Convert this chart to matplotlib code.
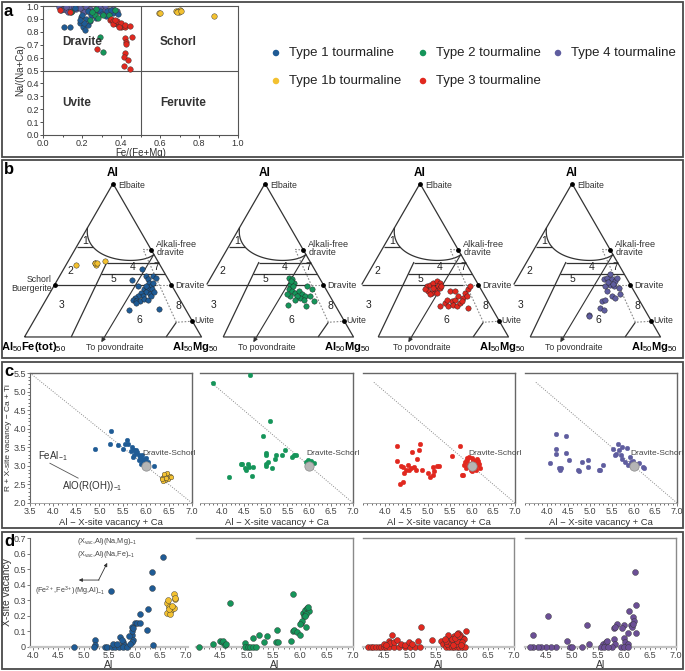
import numpy as np
import matplotlib
matplotlib.use('Agg')
import matplotlib.pyplot as plt
from matplotlib.patches import Rectangle

plt.rcParams['font.family'] = ['Liberation Sans', 'DejaVu Sans']
plt.rcParams['mathtext.fontset'] = 'custom'
plt.rcParams['mathtext.rm'] = 'Liberation Sans'
plt.rcParams['mathtext.it'] = 'Liberation Sans:italic'
plt.rcParams['mathtext.bf'] = 'Liberation Sans:bold'

# colours of the tourmaline types
col_t1 = '#1f5b95'
col_t1b = '#f3c130'
col_t2 = '#15955a'
col_t3 = '#e1281f'
col_t4 = '#5f5d9f'
col_t4d = '#6b4f95'

legend_names = ['Type 1 tourmaline', 'Type 2 tourmaline', 'Type 4 tourmaline',
                'Type 1b tourmaline', 'Type 3 tourmaline']

# ---- panel a : Fe/(Fe+Mg) vs Na/(Na+Ca)
a_t4_x = [0.08, 0.1, 0.12, 0.14, 0.15, 0.17, 0.18, 0.2, 0.22, 0.24, 0.26, 0.28, 0.3, 0.32,
          0.34, 0.36, 0.38, 0.12, 0.16, 0.19, 0.23, 0.27, 0.31, 0.35, 0.25, 0.21, 0.09, 0.13, 0.29]
a_t4_y = [0.99, 0.98, 0.97, 0.99, 0.96, 0.98, 0.99, 0.97, 0.99, 0.98, 0.97, 0.99, 0.98, 0.99,
          0.97, 0.98, 0.96, 0.995, 0.99, 0.985, 0.96, 0.95, 0.965, 0.955, 0.93, 0.95, 0.97, 0.955, 0.985]
a_t1_x = [0.188, 0.205, 0.214, 0.231, 0.197, 0.248, 0.29, 0.325, 0.359, 0.385, 0.11, 0.137,
          0.162, 0.24, 0.22, 0.21, 0.26, 0.3, 0.33, 0.35, 0.27, 0.2, 0.19, 0.23]
a_t1_y = [0.866, 0.84, 0.814, 0.853, 0.917, 0.93, 0.964, 0.922, 0.948, 0.938, 0.835, 0.835,
          0.982, 0.886, 0.9, 0.87, 0.95, 0.94, 0.96, 0.97, 0.91, 0.93, 0.89, 0.96]
a_t2_x = [0.27, 0.29, 0.308, 0.24, 0.265, 0.145, 0.308, 0.34, 0.368, 0.28, 0.25]
a_t2_y = [0.974, 0.762, 0.64, 0.89, 0.93, 0.956, 0.93, 0.93, 0.969, 0.91, 0.95]
a_t3_x = [0.085, 0.137, 0.279, 0.342, 0.35, 0.36, 0.37, 0.38, 0.39, 0.4, 0.41, 0.42, 0.36, 0.38,
          0.4, 0.42, 0.37, 0.39, 0.444, 0.419, 0.427, 0.424, 0.419, 0.414, 0.436, 0.415, 0.444, 0.458]
a_t3_y = [0.969, 0.956, 0.664, 0.891, 0.9, 0.88, 0.87, 0.86, 0.85, 0.84, 0.845, 0.84, 0.86, 0.88,
          0.87, 0.855, 0.895, 0.835, 0.845, 0.749, 0.723, 0.703, 0.638, 0.602, 0.581, 0.535, 0.509, 0.762]
a_t1b_x = [0.595, 0.602, 0.68, 0.69, 0.70, 0.695, 0.685, 0.71, 0.877]
a_t1b_y = [0.943, 0.948, 0.96, 0.965, 0.97, 0.955, 0.952, 0.962, 0.922]

# ---- panel b : ternary plot coordinates (x along base, y height; base 0..1)
b_t1b_x = [0.292, 0.396, 0.406, 0.40, 0.41, 0.453]
b_t1b_y = [0.404, 0.419, 0.409, 0.42, 0.415, 0.428]
b_t1_x = [0.666, 0.609, 0.642, 0.689, 0.698, 0.726, 0.742, 0.704, 0.717, 0.674, 0.698, 0.723,
          0.689, 0.708, 0.660, 0.670, 0.642, 0.623, 0.613, 0.628, 0.651, 0.632, 0.674, 0.698,
          0.717, 0.732, 0.589, 0.758, 0.726, 0.685]
b_t1_y = [0.385, 0.321, 0.287, 0.343, 0.328, 0.343, 0.334, 0.302, 0.287, 0.272, 0.268, 0.268,
          0.253, 0.240, 0.249, 0.230, 0.230, 0.221, 0.211, 0.202, 0.202, 0.192, 0.215, 0.211,
          0.230, 0.253, 0.155, 0.158, 0.306, 0.287]
b_t2_x = [0.638, 0.653, 0.662, 0.643, 0.634, 0.653, 0.672, 0.691, 0.709, 0.728, 0.700, 0.681,
          0.643, 0.625, 0.628, 0.734, 0.775, 0.766, 0.738, 0.657, 0.645, 0.719, 0.757, 0.672]
b_t2_y = [0.334, 0.325, 0.306, 0.291, 0.268, 0.258, 0.249, 0.258, 0.240, 0.230, 0.221, 0.230,
          0.234, 0.240, 0.183, 0.177, 0.202, 0.268, 0.287, 0.287, 0.315, 0.211, 0.230, 0.211]
b_t3_x = [0.538, 0.557, 0.575, 0.594, 0.613, 0.547, 0.566, 0.585, 0.604, 0.557, 0.594, 0.613,
          0.528, 0.575, 0.613, 0.642, 0.660, 0.679, 0.698, 0.717, 0.689, 0.708, 0.726, 0.745,
          0.755, 0.774, 0.764, 0.783, 0.670, 0.698, 0.774, 0.651, 0.735, 0.62]
b_t3_y = [0.287, 0.296, 0.306, 0.315, 0.306, 0.258, 0.249, 0.268, 0.287, 0.240, 0.249, 0.277,
          0.268, 0.277, 0.174, 0.192, 0.174, 0.202, 0.211, 0.230, 0.183, 0.174, 0.192, 0.221,
          0.249, 0.268, 0.230, 0.287, 0.258, 0.258, 0.164, 0.211, 0.205, 0.29]
b_t4_x = [0.679, 0.698, 0.726, 0.745, 0.717, 0.687, 0.736, 0.764, 0.698, 0.726, 0.745, 0.774,
          0.670, 0.689, 0.660, 0.679, 0.596, 0.596, 0.717, 0.755, 0.705, 0.73]
b_t4_y = [0.325, 0.334, 0.325, 0.315, 0.296, 0.287, 0.287, 0.277, 0.258, 0.230, 0.221, 0.240,
          0.202, 0.211, 0.164, 0.155, 0.126, 0.117, 0.353, 0.334, 0.31, 0.30]

# ---- panel c : Al - X-vac + Ca vs R + X-vac - Ca + Ti
c_t1_x = [4.9, 5.25, 5.22, 5.4, 5.5, 5.55, 5.62, 5.6, 5.7, 5.75, 5.8, 5.72, 5.85, 5.9, 5.95, 5.85,
          6.0, 5.9, 6.05, 5.95, 6.18, 5.78, 5.88, 6.0, 6.02, 5.82, 5.92, 5.98, 6.05, 5.75, 5.68]
c_t1_y = [3.45, 3.95, 3.6, 3.55, 3.45, 3.6, 3.6, 3.7, 3.5, 3.42, 3.35, 3.25, 3.3, 3.2, 3.15, 3.15,
          3.1, 3.05, 3.05, 3.12, 3.0, 3.42, 3.25, 3.22, 3.0, 3.38, 3.3, 3.18, 3.1, 3.3, 3.4]
c_t1b_x = [6.35, 6.4, 6.45, 6.5, 6.42, 6.38, 6.48, 6.52, 6.45, 6.4, 6.55, 6.35, 6.43]
c_t1b_y = [2.68, 2.72, 2.75, 2.7, 2.62, 2.6, 2.65, 2.72, 2.8, 2.78, 2.7, 2.65, 2.68]
c_t2_x = [3.8, 4.65, 5.09, 4.95, 5.02, 5.0, 5.05, 5.02, 5.0, 5.15, 5.22, 5.25, 5.38, 5.45, 5.6,
          5.65, 5.7, 5.93, 5.97, 6.0, 6.05, 6.1, 5.95, 4.44, 4.6, 4.54, 4.61, 4.72, 4.7, 4.45,
          4.17, 4.56]
c_t2_y = [5.24, 5.45, 4.21, 3.81, 3.34, 3.05, 3.1, 3.0, 3.28, 2.94, 3.18, 3.3, 3.29, 3.42, 3.25,
          3.3, 3.28, 3.1, 3.15, 3.05, 3.12, 3.08, 3.02, 3.05, 3.05, 2.93, 2.96, 2.96, 2.72, 3.05,
          2.71, 2.89]
c_t3_x = [4.29, 4.29, 4.38, 4.35, 4.42, 4.62, 4.78, 4.82, 4.74, 4.53, 4.6, 4.67, 4.56, 4.49, 4.44,
          4.42, 4.73, 4.86, 5.0, 5.05, 5.11, 5.14, 5.21, 5.25, 5.12, 5.54, 5.74, 5.78, 5.81,
          5.85, 5.9, 5.95, 6.0, 6.05, 6.1, 6.15, 6.2, 5.88, 5.92, 5.98, 6.02, 6.08, 6.12, 6.18,
          5.95, 6.0, 6.05, 5.82, 5.9, 6.1, 6.15, 5.97, 6.03]
c_t3_y = [3.53, 3.14, 3.0, 2.51, 2.56, 3.38, 3.44, 3.59, 3.19, 3.02, 2.93, 2.97, 2.88, 2.88, 2.81,
          2.97, 2.88, 2.88, 2.8, 2.69, 2.75, 2.85, 3.0, 3.0, 2.96, 3.26, 3.53, 2.76, 2.76,
          3.1, 3.15, 3.05, 3.2, 3.1, 3.0, 3.05, 2.95, 2.95, 3.0, 2.9, 3.08, 3.12, 3.18, 3.05,
          3.25, 2.85, 2.92, 3.02, 3.2, 2.9, 3.12, 2.98, 3.15]
c_t4_x = [4.07, 4.22, 4.45, 4.22, 4.22, 4.45, 4.52, 4.28, 4.3, 4.34, 4.71, 4.74, 4.82, 4.96, 4.96,
          5.2, 5.22, 5.3, 5.53, 5.57, 5.63, 5.67, 5.74, 5.85, 5.92, 5.74, 5.81, 5.88, 5.99, 6.06,
          6.13, 6.21, 6.24, 5.71, 5.6, 6.02, 5.95]
c_t4_y = [3.08, 3.87, 3.8, 3.45, 3.33, 3.35, 3.17, 2.95, 2.9, 2.93, 2.9, 2.86, 3.1, 3.15, 2.97,
          2.9, 2.88, 3.02, 3.45, 3.3, 3.6, 3.42, 3.5, 3.47, 3.24, 3.19, 3.1, 3.02, 3.14, 3.04,
          3.08, 2.98, 2.94, 3.28, 3.31, 2.98, 3.1]
c_ref = (6.0, 3.0)

# ---- panel d : Al vs X-site vacancy
d_t1_x = [5.54, 6.35, 6.55, 6.34, 6.27, 6.1, 6.0, 6.05, 6.1, 6.24, 5.95, 5.95, 5.95, 5.97, 5.96,
          5.95, 5.72, 5.77, 5.8, 5.22, 5.22, 5.2, 4.81, 5.42, 5.45, 5.55, 5.62, 5.7, 5.78, 5.85,
          5.57, 5.65, 6.37, 5.9, 5.88, 5.75]
d_t1_y = [0.36, 0.48, 0.58, 0.38, 0.245, 0.21, 0.157, 0.157, 0.157, 0.11, 0.076, 0.10, 0.13, 0.12,
          0.044, 0.03, 0.065, 0.03, 0.01, 0.044, 0.01, 0.0, 0.0, 0.0, 0.0, 0.0, 0.0, 0.0, 0.0, 0.0,
          0.02, 0.02, 0.01, 0.02, 0.07, 0.045]
d_t1b_x = [6.7, 6.77, 6.8, 6.64, 6.67, 6.72, 6.63, 6.77, 6.65, 6.7, 6.79, 6.68, 6.74]
d_t1b_y = [0.23, 0.34, 0.31, 0.28, 0.26, 0.24, 0.22, 0.25, 0.3, 0.215, 0.315, 0.245, 0.265]
d_t2_x = [5.88, 4.69, 6.06, 6.1, 6.14, 6.18, 6.08, 6.12, 6.16, 6.1, 6.02, 6.04, 6.0, 6.11, 5.88,
          5.9, 5.94, 6.0, 5.83, 5.58, 5.55, 5.6, 5.38, 5.32, 5.23, 5.12, 4.97, 4.98, 5.02, 5.07,
          5.12, 5.17, 4.1, 4.37, 4.5, 4.53, 4.55, 4.6, 4.62]
d_t2_y = [0.34, 0.28, 0.22, 0.24, 0.25, 0.23, 0.2, 0.21, 0.26, 0.2, 0.157, 0.165, 0.15, 0.13, 0.1,
          0.11, 0.095, 0.08, 0.04, 0.11, 0.035, 0.03, 0.07, 0.03, 0.08, 0.055, 0.025, 0.0, 0.0, 0.0,
          0.0, 0.0, 0.0, 0.02, 0.04, 0.035, 0.04, 0.01, 0.02]
d_t3_x = [5.22, 4.66, 4.2, 4.25, 4.3, 4.35, 4.4, 4.45, 4.5, 4.55, 4.6, 4.7, 4.8, 4.9, 5.0, 5.1,
          5.2, 4.6, 4.62, 4.7, 4.75, 4.83, 4.9, 4.98, 5.05, 5.15, 4.5, 4.55, 5.43, 5.59, 5.63,
          5.7, 5.75, 5.8, 5.85, 5.9, 5.95, 6.0, 6.05, 6.07, 5.93, 5.72, 5.78, 5.82, 5.88, 5.92,
          5.98, 6.02, 5.76, 5.84, 5.9, 5.96, 6.04, 5.7, 5.8, 5.86, 5.94, 6.0, 5.74, 5.68, 5.82,
          5.9, 5.98]
d_t3_y = [0.13, 0.076, 0, 0, 0, 0, 0, 0, 0, 0, 0, 0, 0, 0, 0, 0, 0, 0.04, 0.025, 0.035, 0.045,
          0.02, 0.015, 0.03, 0.02, 0.04, 0.02, 0.01, 0.048, 0.04, 0.02,
          0.0, 0.0, 0.0, 0.0, 0.0, 0.0, 0.0, 0.0, 0.1, 0.09, 0.02, 0.03, 0.04, 0.02, 0.05,
          0.03, 0.06, 0.06, 0.07, 0.04, 0.08, 0.05, 0.04, 0.05, 0.06, 0.07, 0.03, 0.075, 0.05,
          0.01, 0.085, 0.015]
d_t4_x = [6.22, 6.23, 6.1, 6.18, 6.2, 6.13, 6.15, 6.17, 6.0, 5.96, 6.24, 6.07, 6.0, 6.03, 6.07,
          5.95, 6.0, 6.08, 5.8, 5.86, 5.83, 5.8, 5.82, 5.78, 5.6, 5.65, 5.55, 5.62, 5.29, 5.33,
          5.2, 4.97, 5.0, 4.9, 4.7, 4.6, 4.5, 4.4, 4.35, 4.25, 4.2, 4.54, 4.26, 5.7, 5.68]
d_t4_y = [0.48, 0.27, 0.23, 0.19, 0.17, 0.14, 0.13, 0.15, 0.14, 0.12, 0.09, 0.09, 0.06, 0.03,
          0.02, 0.0, 0.0, 0.0, 0.12, 0.15, 0.13, 0.05, 0.02, 0.0, 0.02, 0.03, 0.0, 0.0, 0.14,
          0.02, 0.0, 0.0, 0.0, 0.04, 0.0, 0.0, 0.0, 0.0, 0.0, 0.0, 0.0, 0.2, 0.08, 0.0, 0.04]

W, H = 685, 671
fig = plt.figure(figsize=(W / 100, H / 100), dpi=100)


def px_axes(l, t, r, b):
    return fig.add_axes([l / W, 1 - b / H, (r - l) / W, (b - t) / H])


def figtext(x, y, s, **kw):
    fig.text(x / W, 1 - y / H, s, **kw)


# outer boxes and panel letters
for (t, b, lab) in [(2, 157, 'a'), (160, 358, 'b'), (362, 528, 'c'), (532, 669, 'd')]:
    fig.patches.append(Rectangle((2 / W, 1 - b / H), 681 / W, (b - t) / H,
                                 transform=fig.transFigure, fill=False,
                                 edgecolor='#4a4a4a', lw=1.3))
    figtext(4, t + 10, lab, fontsize=12, fontweight='bold', va='center', ha='left')

# ================= panel a
ax = px_axes(43, 6, 238, 135)
kw = dict(s=16, edgecolors='#333333', linewidths=0.3, zorder=3)
ax.scatter(a_t4_x, a_t4_y, color=col_t4, **kw)
ax.scatter(a_t1_x, a_t1_y, color=col_t1, **kw)
ax.scatter(a_t2_x, a_t2_y, color=col_t2, **kw)
ax.scatter(a_t3_x, a_t3_y, color=col_t3, **kw)
ax.scatter(a_t1b_x, a_t1b_y, color=col_t1b, **kw)
ax.axvline(0.5, color='#555555', lw=0.8)
ax.axhline(0.5, color='#555555', lw=0.8)
ax.set_xlim(0, 1)
ax.set_ylim(0, 1)
ax.set_xticks(np.arange(0, 1.01, 0.2))
ax.set_xticks(np.arange(0, 1.01, 0.1), minor=True)
ax.set_yticks(np.arange(0, 1.01, 0.1))
ax.set_xticklabels(['%.1f' % v for v in np.arange(0, 1.01, 0.2)])
ax.set_yticklabels(['%.1f' % v for v in np.arange(0, 1.01, 0.1)])
ax.tick_params(labelsize=6.5, length=2, width=0.6, pad=1, colors='#333333')
ax.tick_params(which='minor', length=1.5, width=0.5)
for sp in ax.spines.values():
    sp.set_color('#555555')
    sp.set_linewidth(0.8)
ax.set_xlabel('Fe/(Fe+Mg)', fontsize=7, labelpad=0, color='#333333')
ax.set_ylabel('Na/(Na+Ca)', fontsize=7, labelpad=1, color='#333333')
for (x, y, s) in [(0.1, 0.72, 'Dravite'), (0.6, 0.72, 'Schorl'),
                  (0.1, 0.25, 'Uvite'), (0.6, 0.25, 'Feruvite')]:
    ax.text(x, y, s, fontsize=8.5, fontweight='bold', color='#333333', va='center')

# legend (manual, as in the figure)
leg_cols = [col_t1, col_t2, col_t4, col_t1b, col_t3]
leg_pos = [(276, 53), (423, 53), (558, 53), (276, 81), (423, 81)]
lax = px_axes(0, 0, W, H)
lax.set_xlim(0, W)
lax.set_ylim(H, 0)
lax.axis('off')
for name, c, (x, y) in zip(legend_names, leg_cols, leg_pos):
    lax.scatter([x], [y], s=22, color=c, edgecolors='none')
    lax.text(x + 13, y, name, fontsize=9.5, va='center', ha='left', color='#222222')

# ================= panel b : ternary diagrams
S3 = np.sqrt(3) / 2
tri_apex = [113, 265, 420, 572]
tri_data = [[(b_t1b_x, b_t1b_y, col_t1b), (b_t1_x, b_t1_y, col_t1)],
            [(b_t2_x, b_t2_y, col_t2)],
            [(b_t3_x, b_t3_y, col_t3)],
            [(b_t4_x, b_t4_y, col_t4)]]
side = 177.0
lc = '#333333'


def bez(p0, p1, p2, p3, n=80):
    t = np.linspace(0, 1, n)[:, None]
    p = ((1 - t) ** 3 * np.array(p0) + 3 * (1 - t) ** 2 * t * np.array(p1)
         + 3 * (1 - t) * t ** 2 * np.array(p2) + t ** 3 * np.array(p3))
    return p[:, 0], p[:, 1]


for k, apx in enumerate(tri_apex):
    first = k == 0
    l, r, t, b = apx - 110, apx + 130, 166, 356
    tax = px_axes(l, t, r, b)
    tax.set_xlim(-(apx - 88.5 - l) / side, 1 + (r - apx - 88.5) / side)
    tax.set_ylim(-(b - 337) / side, S3 + (183.5 - t) / side)
    tax.axis('off')
    tax.patch.set_alpha(0)
    L = dict(color=lc, lw=0.9, solid_capstyle='butt')
    D = dict(color='#888888', lw=0.8, ls=(0, (1.5, 1.5)))
    yS = 0.296
    if first:
        tax.plot([0, 0.5, 1, 0], [0, S3, 0, 0], **L)
    else:
        tax.plot([yS / np.sqrt(3), 0.5, 1, 0.264], [yS, S3, 0, 0], **L)
    # curved field boundary and field 1
    cx, cy = bez((0.356, 0.617), (0.33, 0.42), (0.66, 0.40), (0.731, 0.466))
    tax.plot(cx, cy, **L)
    half = cx < 0.5
    x1 = np.interp(0.509, cy[half][::-1], cx[half][::-1])
    tax.plot([0.509 / np.sqrt(3), x1], [0.509, 0.509], **L)
    # internal boundaries
    tax.plot([0.264, 0.466], [0, 0.423], **L)
    for yy in (0.419, 0.357):
        tax.plot([0.264 + 0.4775 * yy, 1 - yy / np.sqrt(3)], [yy, yy], **L)
    tax.plot([yS / np.sqrt(3), 0.745], [yS, yS], **L)
    tax.plot([0.745, 0.829], [yS, yS], **D)
    tax.plot([0.80, 0.858], [0, 0.083], **L)
    tax.plot([0.717, 0.670, 0.858, 0.949], [0.491, 0.494, 0.083, 0.089], **D)
    tax.annotate('', xy=(0.434, -0.03), xytext=(0.731, 0.466),
                 arrowprops=dict(arrowstyle='-|>', color=lc, lw=0.8,
                                 mutation_scale=6, shrinkA=0, shrinkB=0))
    # end members
    ex = [0.5, 0.717, 0.829, 0.949] + ([0.171] if first else [])
    ey = [S3, 0.491, yS, 0.089] + ([yS] if first else [])
    tax.scatter(ex, ey, s=6, color='black', zorder=4, clip_on=False)
    fs = 6.3
    tax.text(0.53, S3 - 0.01, 'Elbaite', fontsize=fs, va='center', color='#333333')
    tax.text(0.745, 0.50, 'Alkali-free\ndravite', fontsize=6.6, va='center',
             linespacing=0.9, color='#333333', clip_on=False)
    tax.text(0.85, yS - 0.005, 'Dravite', fontsize=6.6, va='center', color='#333333')
    tax.text(0.962, 0.094, 'Uvite', fontsize=fs, va='center', color='#333333')
    if first:
        tax.text(0.155, yS + 0.002, 'Schorl\nBuergerite', fontsize=fs, va='center',
                 ha='right', linespacing=0.95, color='#333333')
        tax.text(0.05, -0.058, r'Al$_{50}$Fe(tot)$_{50}$', fontsize=8,
                 fontweight='bold', ha='center', va='center')
    tax.text(0.5, S3 + 0.062, 'Al', fontsize=8.5, fontweight='bold', ha='center', va='center')
    tax.text(0.965, -0.058, r'Al$_{50}$Mg$_{50}$', fontsize=8, fontweight='bold',
             ha='center', va='center', clip_on=False)
    tax.text(0.508, -0.062, 'To povondraite', fontsize=fs, ha='center', va='center',
             color='#333333')
    for (x, y, s) in [(0.34, 0.54, '1'), (0.26, 0.37, '2'), (0.21, 0.18, '3'),
                      (0.613, 0.396, '4'), (0.5, 0.33, '5'), (0.65, 0.098, '6'),
                      (0.745, 0.396, '7'), (0.868, 0.174, '8')]:
        tax.text(x, y, s, fontsize=7.5, ha='center', va='center', color='#222222')
    for (xs, ys, c) in tri_data[k]:
        tax.scatter(xs, ys, s=15, color=c, edgecolors='#222222', linewidths=0.3, zorder=5)

# ================= panel c
c_boxes = [(30, 192, 3.5), (200, 353, 3.75), (363, 515, 3.75), (525, 677, 3.75)]
c_sets = [[(c_t1_x, c_t1_y, col_t1), (c_t1b_x, c_t1b_y, col_t1b)],
          [(c_t2_x, c_t2_y, col_t2)],
          [(c_t3_x, c_t3_y, col_t3)],
          [(c_t4_x, c_t4_y, col_t4)]]
for k, (l, r, x0) in enumerate(c_boxes):
    ax = px_axes(l, 373, r, 503)
    ax.set_xlim(x0, 7.0)
    ax.set_ylim(2.0, 5.5)
    xs_line = np.array([x0, 7.0])
    ax.plot(xs_line, 9 - xs_line, color='#888888', lw=0.7, ls=(0, (1, 1.5)))
    for (xs, ys, c) in c_sets[k]:
        ec = '#333333' if c == col_t1b else c
        ax.scatter(xs, ys, s=11, color=c, edgecolors=ec, linewidths=0.3, zorder=3)
    ax.scatter([c_ref[0]], [c_ref[1]], s=45, color='#b5b5b5', edgecolors='#8a8a8a',
               linewidths=0.5, zorder=4)
    ax.text(c_ref[0] - 0.07, c_ref[1] + 0.33, 'Dravite-Schorl', fontsize=6,
            color='#444444', va='center', ha='left', zorder=5)
    ax.set_xticks(np.arange(4.0 if k else 3.5, 7.01, 0.5))
    ax.set_xticks(np.arange(3.5, 7.01, 0.1), minor=True)
    ax.tick_params(axis='x', labelsize=6.5, length=2, width=0.5, pad=1, colors='#444444')
    ax.tick_params(axis='x', which='minor', length=1.2, width=0.4)
    ax.set_xlabel('Al \u2212 X-site vacancy + Ca', fontsize=6.8,
                  labelpad=1, color='#333333')
    for sp in ('top', 'right'):
        ax.spines[sp].set_color('#666666')
        ax.spines[sp].set_linewidth(1.0)
    ax.spines['bottom'].set_color('#999999')
    ax.spines['bottom'].set_linewidth(0.6)
    if k == 0:
        ax.spines['left'].set_color('#666666')
        ax.set_yticks(np.arange(2.0, 5.51, 0.5))
        ax.set_yticks(np.arange(2.0, 5.51, 0.1), minor=True)
        ax.tick_params(axis='y', labelsize=6.5, length=2, width=0.5, pad=1, colors='#444444')
        ax.tick_params(axis='y', which='minor', length=1.2, width=0.4)
        ax.set_ylabel('R + X-site vacancy \u2212 Ca + Ti',
                      fontsize=6.0, labelpad=1, color='#333333')
        ax.text(3.67, 3.25, r'FeAl$_{-1}$', fontsize=7, color='#333333', va='center')
        ax.plot([3.93, 4.54], [3.07, 2.67], color='#555555', lw=0.6)
        ax.text(4.2, 2.47, r'AlO(R(OH))$_{-1}$', fontsize=7, color='#333333', va='center')
    else:
        ax.spines['left'].set_visible(False)
        ax.set_yticks([])

# ================= panel d
d_boxes = [(30, 188, 3.94, 7.05), (196, 353, 4.05, 7.0), (363, 514, 4.15, 7.0),
           (525, 676, 4.15, 7.0)]
d_sets = [[(d_t1_x, d_t1_y, col_t1), (d_t1b_x, d_t1b_y, col_t1b)],
          [(d_t2_x, d_t2_y, col_t2)],
          [(d_t3_x, d_t3_y, col_t3)],
          [(d_t4_x, d_t4_y, col_t4d)]]
for k, (l, r, x0, x1) in enumerate(d_boxes):
    ax = px_axes(l, 538, r, 647)
    ax.set_xlim(x0, x1)
    ax.set_ylim(0, 0.7)
    for (xs, ys, c) in d_sets[k]:
        ax.scatter(xs, ys, s=18, color=c, edgecolors='#333333', linewidths=0.3,
                   zorder=3, clip_on=False)
    ax.set_xticks(np.arange(4.0 if k == 0 else 4.5, 7.01, 0.5))
    ax.set_xticks(np.arange(4.1 if k else 4.0, 7.01, 0.1), minor=True)
    ax.tick_params(axis='x', labelsize=6.5, length=2, width=0.5, pad=1, colors='#444444')
    ax.tick_params(axis='x', which='minor', length=1.2, width=0.4)
    ax.set_xlabel('Al', fontsize=7.5, labelpad=0, color='#333333')
    ax.spines['bottom'].set_color('#c4c4c4')
    ax.spines['bottom'].set_linewidth(1.6)
    for sp in ('top', 'right'):
        ax.spines[sp].set_color('#8a8a8a')
        ax.spines[sp].set_linewidth(1.0)
    if k == 0:
        ax.spines['top'].set_visible(False)
        ax.spines['right'].set_visible(False)
        ax.spines['left'].set_color('#666666')
        ax.set_yticks(np.arange(0, 0.71, 0.1))
        ax.set_yticklabels(['0'] + ['%.1f' % v for v in np.arange(0.1, 0.71, 0.1)])
        ax.tick_params(axis='y', labelsize=6.5, length=2, width=0.5, pad=1, colors='#444444')
        ax.set_ylabel('X-site vacancy', fontsize=7.5, labelpad=1, color='#333333')
        ax.text(5.45, 0.68, r'(X$_{\mathrm{vac}}$,Al)(Na,Mg)$_{-1}$', fontsize=5.2,
                color='#444444', ha='center', va='center')
        ax.text(5.45, 0.595, r'(X$_{\mathrm{vac}}$,Al)(Na,Fe)$_{-1}$', fontsize=5.2,
                color='#444444', ha='center', va='center')
        ax.text(4.73, 0.355, r'(Fe$^{2+}$,Fe$^{3+}$)(Mg,Al)$_{-1}$', fontsize=5.2,
                color='#444444', ha='center', va='center')
        ax.annotate('', xy=(5.46, 0.54), xytext=(5.29, 0.43),
                    arrowprops=dict(arrowstyle='-|>', color='#333333', lw=0.6,
                                    mutation_scale=5, shrinkA=0, shrinkB=0))
        ax.annotate('', xy=(4.9, 0.43), xytext=(5.3, 0.43),
                    arrowprops=dict(arrowstyle='-|>', color='#333333', lw=0.6,
                                    mutation_scale=5, shrinkA=0, shrinkB=0))
    else:
        ax.spines['left'].set_visible(False)
        ax.set_yticks([])

fig.savefig('out.png', dpi=100)
